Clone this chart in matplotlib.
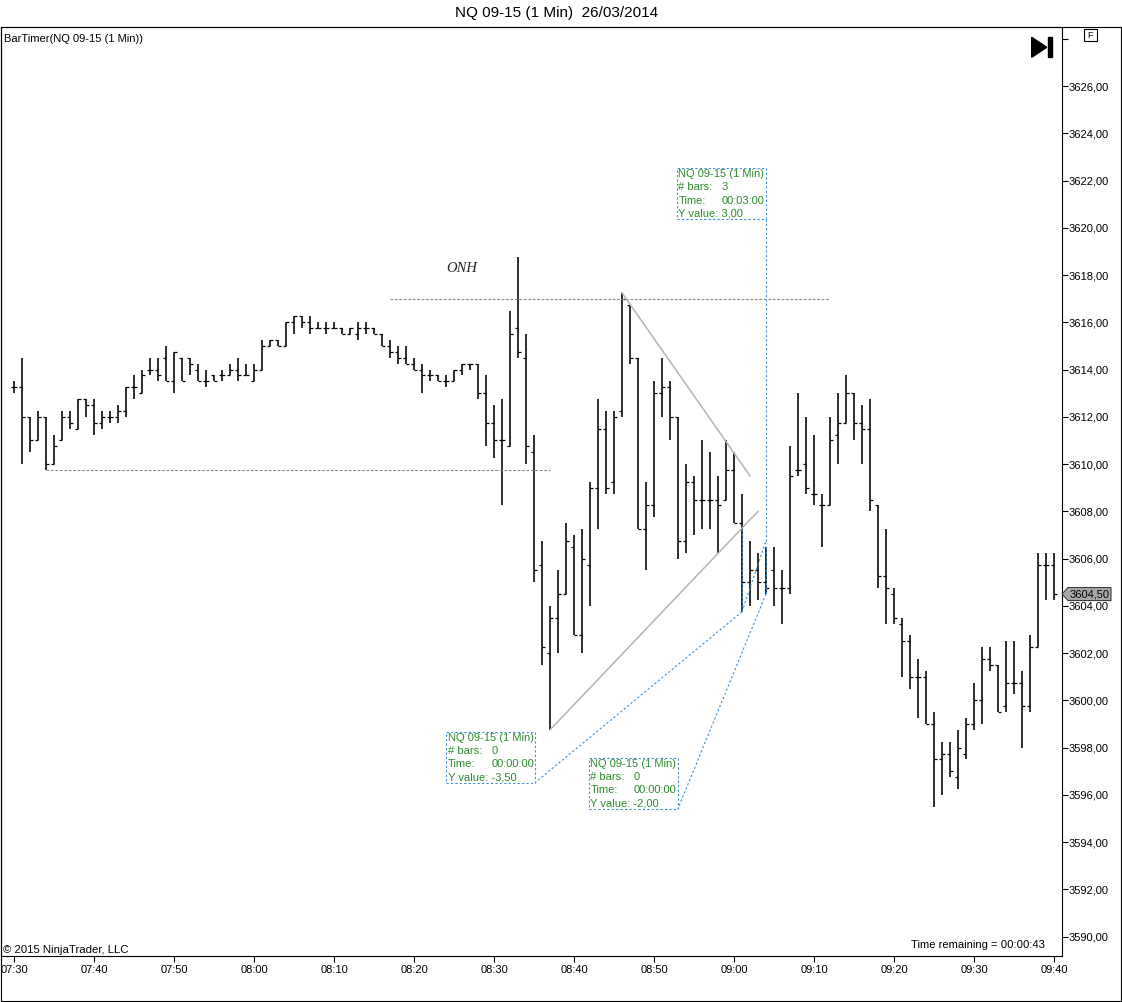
import matplotlib
matplotlib.use('Agg')
import matplotlib.pyplot as plt
from matplotlib.patches import Rectangle, Polygon
import numpy as np

plt.rcParams['font.family'] = ['Liberation Sans', 'DejaVu Sans']

# 1 minute bars, 07:30 .. 09:40
opens = [3613.25, 3613.25, 3612.0, 3611.0, 3612.0, 3610.0, 3611.0, 3612.0, 3611.5, 3612.75,
         3612.5, 3611.75, 3612.0, 3612.0, 3612.25, 3613.25, 3613.0, 3614.0, 3614.0, 3614.5,
         3613.5, 3614.5, 3614.5, 3614.0, 3613.5, 3613.75, 3613.75, 3613.75, 3614.0, 3613.75,
         3613.5, 3614.0, 3615.0, 3615.25, 3615.0, 3616.0, 3616.25, 3616.0, 3615.75, 3615.75,
         3615.75, 3615.75, 3615.5, 3615.5, 3615.75, 3615.75, 3615.5, 3615.0, 3614.75, 3614.5,
         3614.25, 3614.0, 3613.75, 3613.75, 3613.5, 3613.5, 3614.0, 3614.25, 3614.25, 3613.0,
         3611.75, 3611.0, 3610.75, 3615.75, 3614.5, 3610.5, 3605.75, 3602.0, 3603.5, 3604.5,
         3606.5, 3602.75, 3605.75, 3609.0, 3611.5, 3609.25, 3612.25, 3616.75, 3614.5, 3607.25,
         3608.25, 3613.0, 3613.25, 3612.0, 3606.75, 3609.25, 3608.5, 3608.5, 3608.5, 3608.5,
         3609.75, 3607.5, 3605.0, 3605.5, 3605.0, 3605.5, 3604.75, 3604.75, 3609.75, 3610.0,
         3608.75, 3608.25, 3608.25, 3611.25, 3611.75, 3613.0, 3611.75, 3611.5, 3608.25, 3605.25,
         3604.5, 3603.25, 3602.5, 3601.0, 3601.0, 3599.0, 3597.5, 3597.75, 3596.75, 3597.75,
         3599.0, 3600.0, 3601.75, 3601.5, 3599.75, 3600.75, 3600.75, 3599.75, 3602.25, 3605.75,
         3605.75]
highs = [3613.5, 3614.5, 3612.0, 3612.25, 3612.0, 3611.25, 3612.25, 3612.25, 3612.75, 3612.75,
         3612.75, 3612.25, 3612.25, 3612.5, 3613.25, 3613.75, 3614.0, 3614.5, 3614.5, 3615.0,
         3614.75, 3614.5, 3614.5, 3614.25, 3614.0, 3613.75, 3614.0, 3614.25, 3614.5, 3614.25,
         3614.25, 3615.25, 3615.25, 3615.25, 3616.0, 3616.25, 3616.25, 3616.25, 3616.0, 3616.0,
         3616.0, 3615.75, 3615.75, 3616.0, 3616.0, 3615.75, 3615.5, 3615.25, 3615.0, 3615.0,
         3614.5, 3614.25, 3614.0, 3613.75, 3613.75, 3614.0, 3614.25, 3614.25, 3614.25, 3613.75,
         3612.5, 3612.75, 3616.5, 3618.75, 3615.5, 3611.25, 3606.75, 3604.0, 3605.5, 3607.5,
         3607.0, 3607.25, 3609.25, 3612.75, 3612.25, 3612.25, 3617.25, 3616.75, 3614.5, 3609.25,
         3613.5, 3614.5, 3613.5, 3612.0, 3610.0, 3609.5, 3611.0, 3610.5, 3609.5, 3611.0,
         3610.5, 3608.75, 3606.75, 3606.25, 3606.5, 3606.5, 3605.5, 3610.75, 3613.0, 3612.0,
         3611.25, 3608.75, 3612.0, 3613.0, 3613.75, 3613.0, 3612.5, 3612.75, 3608.25, 3607.25,
         3604.75, 3603.5, 3602.75, 3601.75, 3601.25, 3599.5, 3598.25, 3598.25, 3598.75, 3599.25,
         3600.75, 3602.25, 3602.25, 3601.5, 3602.5, 3602.5, 3601.25, 3602.75, 3606.25, 3606.25,
         3606.25]
lows = [3613.0, 3610.0, 3610.5, 3611.0, 3609.75, 3610.0, 3611.0, 3611.5, 3611.5, 3612.0,
        3611.25, 3611.5, 3611.75, 3611.75, 3612.0, 3612.75, 3613.0, 3613.75, 3613.5, 3613.5,
        3613.0, 3613.5, 3613.75, 3613.5, 3613.25, 3613.5, 3613.5, 3613.75, 3613.5, 3613.75,
        3613.5, 3614.0, 3615.0, 3615.0, 3615.0, 3615.5, 3615.75, 3615.5, 3615.75, 3615.5,
        3615.75, 3615.5, 3615.5, 3615.25, 3615.5, 3615.5, 3615.0, 3614.5, 3614.25, 3614.25,
        3614.0, 3613.0, 3613.5, 3613.5, 3613.25, 3613.5, 3613.75, 3614.0, 3612.75, 3610.75,
        3610.25, 3608.25, 3610.75, 3614.5, 3610.0, 3605.0, 3601.5, 3598.75, 3602.0, 3604.5,
        3602.75, 3602.0, 3604.0, 3607.25, 3608.75, 3608.75, 3612.0, 3614.25, 3607.25, 3605.5,
        3607.75, 3612.0, 3611.0, 3606.0, 3606.25, 3607.0, 3607.25, 3607.25, 3606.25, 3608.5,
        3607.5, 3603.75, 3604.0, 3604.25, 3604.5, 3604.0, 3603.25, 3604.5, 3609.5, 3608.75,
        3608.25, 3606.5, 3608.25, 3610.0, 3611.75, 3611.0, 3610.0, 3608.0, 3604.75, 3603.25,
        3603.25, 3601.0, 3600.5, 3599.25, 3599.0, 3595.5, 3596.0, 3596.75, 3596.25, 3597.5,
        3598.75, 3599.0, 3601.25, 3599.5, 3599.5, 3600.25, 3598.0, 3599.5, 3602.25, 3604.25,
        3604.25]
closes = [3613.25, 3612.0, 3611.0, 3612.0, 3610.0, 3610.75, 3612.0, 3611.75, 3612.75, 3612.5,
          3611.75, 3612.0, 3612.0, 3612.25, 3613.25, 3613.25, 3613.75, 3614.0, 3613.75, 3613.5,
          3614.75, 3613.5, 3614.25, 3613.5, 3613.5, 3613.5, 3613.75, 3614.0, 3613.75, 3613.75,
          3614.0, 3615.0, 3615.25, 3615.0, 3616.0, 3616.25, 3616.0, 3615.75, 3615.75, 3615.75,
          3615.75, 3615.5, 3615.75, 3615.75, 3615.75, 3615.5, 3615.0, 3614.75, 3614.5, 3614.25,
          3614.0, 3613.75, 3613.75, 3613.5, 3613.5, 3614.0, 3614.25, 3614.25, 3613.0, 3611.75,
          3611.0, 3611.0, 3615.5, 3614.75, 3610.75, 3605.5, 3602.25, 3603.5, 3604.5, 3606.75,
          3602.75, 3606.0, 3609.0, 3611.5, 3609.0, 3612.0, 3617.0, 3614.5, 3607.25, 3608.25,
          3613.0, 3613.25, 3612.0, 3606.75, 3609.25, 3608.5, 3608.5, 3608.5, 3608.25, 3609.75,
          3607.5, 3605.0, 3605.5, 3605.0, 3604.75, 3604.75, 3604.75, 3609.5, 3609.75, 3609.0,
          3608.75, 3608.25, 3611.0, 3611.75, 3613.0, 3611.75, 3611.5, 3608.5, 3605.25, 3604.75,
          3603.5, 3602.5, 3601.0, 3601.0, 3599.0, 3597.5, 3597.75, 3597.0, 3598.0, 3599.0,
          3600.0, 3601.75, 3601.5, 3599.5, 3600.75, 3600.75, 3599.75, 3602.25, 3605.75, 3605.75,
          3604.5]

time_labels = ['07:30', '07:40', '07:50', '08:00', '08:10', '08:20', '08:30',
               '08:40', '08:50', '09:00', '09:10', '09:20', '09:30', '09:40']

# drawn objects (bar index, price)
onh_line = [(47, 3617.0), (102, 3617.0)]
low_line = [(4, 3609.75), (67, 3609.75)]
trend_down = [(76, 3617.25), (92, 3609.5)]
trend_up = [(67, 3598.75), (93, 3608.0)]

# rulers: start, end, box corner, bars, time, y value
ruler_starts = [(91, 3603.75), (91, 3607.25), (94, 3606.5)]
ruler_ends = [(94, 3606.75), (91, 3603.75), (94, 3604.5)]
ruler_boxes = [(94, 3620.37), (65.15, 3596.52), (83, 3595.42)]
ruler_bars = ['3', '0', '0']
ruler_times = ['00:03:00', '00:00:00', '00:00:00']
ruler_yvals = ['3,00', '-3,50', '-2,00']

W, H = 1122, 1002
fig = plt.figure(figsize=(W / 100, H / 100), dpi=100)


def fx(x):
    return x / W


def fy(y):
    return 1 - y / H


ax = fig.add_axes([fx(0.5), fy(956), 1061 / W, 929 / H])
ax.set_xlim(-1.69, 130.94)
ax.set_ylim(3589.18, 3628.5)

idx = np.arange(len(closes))
ax.vlines(idx, lows, highs, color='black', lw=1.15, capstyle='butt')
ax.hlines(opens, idx - 0.32, idx, color='black', lw=0.9)
ax.hlines(closes, idx, idx + 0.32, color='black', lw=0.9)

gray_dash = dict(color='#8c8c8c', lw=0.8, ls=(0, (2.5, 1.5)))
ax.plot(*zip(*onh_line), **gray_dash)
ax.plot(*zip(*low_line), **gray_dash)
ax.plot(*zip(*trend_down), color='#b4b4b4', lw=1.1)
ax.plot(*zip(*trend_up), color='#b4b4b4', lw=1.1)
ax.text(56, 3618.26, 'ONH', family='Liberation Serif', style='italic',
        fontsize=10.5, ha='center', va='center', color='#222222')

# rulers
blue = '#3a8fd6'
green = '#2e8b2e'
for s, e, b, nb, tm, yv in zip(ruler_starts, ruler_ends, ruler_boxes,
                                ruler_bars, ruler_times, ruler_yvals):
    ax.plot([s[0], e[0]], [s[1], e[1]], color=blue, lw=0.8, ls=(0, (2, 2)))
    ax.plot([e[0], b[0]], [e[1], b[1]], color=blue, lw=0.8, ls=(0, (2, 2)))
    bx, by = ax.transData.transform(b)
    left, top = bx - 89, by + 51
    fig.add_artist(Rectangle((left / W, by / H), 89 / W, 51 / H, fill=False,
                             edgecolor=blue, lw=0.8, ls=(0, (2, 2)),
                             transform=fig.transFigure))
    rows = [('NQ 09-15 (1 Min)', None), ('# bars:', nb), ('Time:', tm),
            ('Y value: ' + yv, None)]
    for k, (lab, val) in enumerate(rows):
        yy = (top - 6 - 13.3 * k) / H
        fig.text((left + 1.5) / W, yy, lab, fontsize=8, color=green,
                 va='center', ha='left')
        if val is not None:
            fig.text((left + 45) / W, yy, val, fontsize=8, color=green,
                     va='center', ha='left')

# axes styling
for sp in ax.spines.values():
    sp.set_linewidth(0.8)
    sp.set_color('black')
ax.set_xticks(range(0, 131, 10))
ax.set_xticklabels(time_labels)
ax.tick_params(axis='x', direction='out', length=4.3, width=0.8, pad=2,
               labelsize=8)
yt = np.arange(3590, 3629, 2)
ax.yaxis.tick_right()
ax.set_yticks(yt)
ax.set_yticklabels([f'{v:.2f}'.replace('.', ',') if v < 3628 else '' for v in yt])
ax.tick_params(axis='y', direction='out', length=4.3, width=0.8, pad=1,
               labelsize=8)

# last price marker
_, yp = ax.transData.transform((0, closes[-1]))
pts = [(1062, yp), (1068, yp - 6.5), (1111, yp - 6.5), (1111, yp + 6.5), (1068, yp + 6.5)]
fig.add_artist(Polygon([(x / W, y / H) for x, y in pts], closed=True,
                       facecolor='#a8a8a8', edgecolor='#3c3c3c', lw=0.8,
                       transform=fig.transFigure))
fig.text(1089.5 / W, yp / H, f'{closes[-1]:.2f}'.replace('.', ','),
         fontsize=8, ha='center', va='center')

# outer frame and chrome
fig.add_artist(Rectangle((fx(0.5), fy(1001)), 1120 / W, 974 / H, fill=False,
                         edgecolor='black', lw=0.8, transform=fig.transFigure))
fig.text(fx(557), fy(13), 'NQ 09-15 (1 Min)  26/03/2014', ha='center',
         va='center', fontsize=11)
fig.text(fx(4), fy(39), 'BarTimer(NQ 09-15 (1 Min))', ha='left', va='center',
         fontsize=8)
fig.text(fx(3), fy(950), '\u00a9 2015 NinjaTrader, LLC', ha='left', va='center',
         fontsize=8.2)
fig.text(fx(1045), fy(945), 'Time remaining = 00:00:43', ha='right',
         va='center', fontsize=8.1)
fig.add_artist(Polygon([(fx(1031.7), fy(37.3)), (fx(1046.7), fy(47.3)),
                        (fx(1031.7), fy(57.3))], closed=True, color='black',
                       transform=fig.transFigure))
fig.add_artist(Rectangle((fx(1048.3), fy(57.3)), 3.4 / W, 20 / H, color='black',
                         transform=fig.transFigure))
fig.add_artist(Rectangle((fx(1084), fy(41)), 13 / W, 11.7 / H, fill=False,
                         edgecolor='black', lw=0.8, transform=fig.transFigure))
fig.text(fx(1090.5), fy(35.2), 'F', ha='center', va='center', fontsize=6.5)

fig.savefig('out.png', dpi=100)
